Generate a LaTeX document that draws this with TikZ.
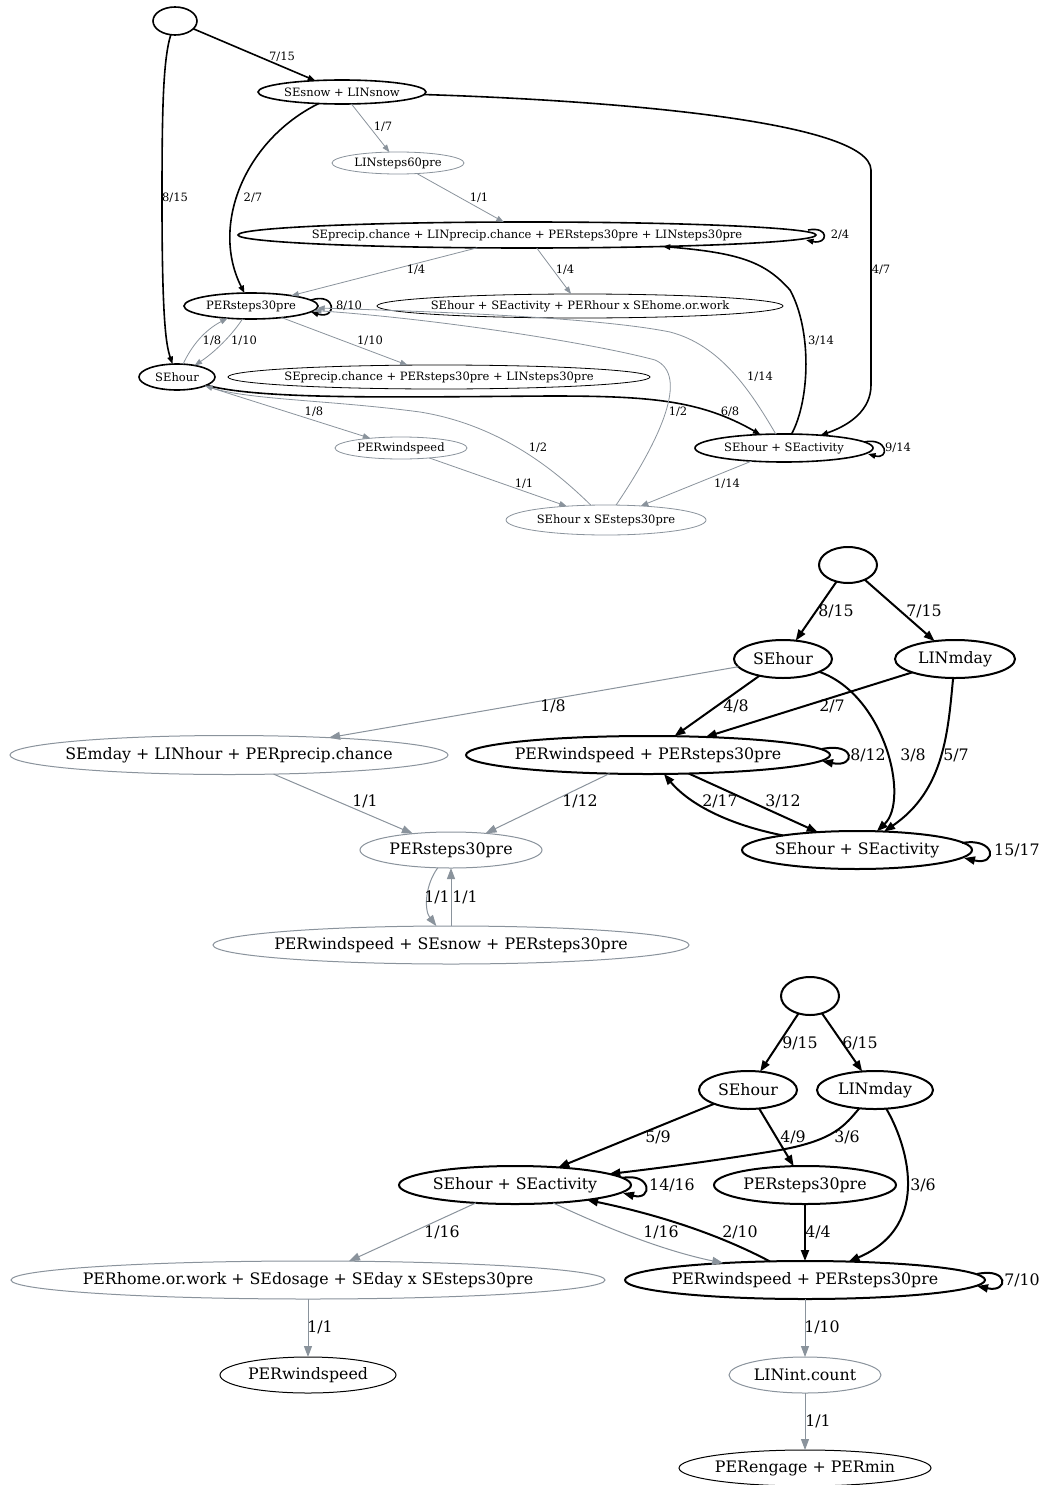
\documentclass[tikz,border=0pt]{standalone}
\usepackage{fontspec}
\setmainfont{DejaVu Serif}
\usetikzlibrary{shapes.geometric,arrows.meta,calc}
\definecolor{eg}{RGB}{138,147,156}
\newcommand\zt[1]{\hbox to 0pt{\hss#1\hss}}
\begin{document}
\begin{tikzpicture}[x=1pt,y=-1pt,
  nd/.style={ellipse, inner sep=0pt, outer sep=0pt},
  fa/.style={font=\fontsize{11.5}{13}\selectfont},
  fb/.style={font=\fontsize{15.8}{18}\selectfont},
  tk/.style={nd, fa, draw=black, line width=1.6pt},
  tn/.style={nd, fa, draw=black, line width=0.8pt},
  tg/.style={nd, fa, draw=eg, line width=0.8pt},
  bk/.style={nd, fb, draw=black, line width=2pt},
  bn/.style={nd, fb, draw=black, line width=1pt},
  bg/.style={nd, fb, draw=eg, line width=1pt},
  ea/.style={black, line width=1.6pt, -{Triangle[length=7.5pt,width=5.5pt]}},
  eag/.style={eg, line width=0.8pt, -{Triangle[length=7.5pt,width=5.5pt]}},
  eb/.style={black, line width=2pt, -{Triangle[length=11pt,width=8pt]}},
  ebg/.style={eg, line width=1pt, -{Triangle[length=11pt,width=8pt]}},
  la/.style={fa, inner sep=0pt},
  lb/.style={fb, inner sep=0pt}]
\fill[white] (0,0) rectangle (1042,1485);
\useasboundingbox (0,0) rectangle (1042,1485);

% ---------------- top graph ----------------
\node[tk, minimum width=44pt, minimum height=28pt] (r1) at (175,21) {};
\node[tk, minimum width=168pt, minimum height=24pt] (sn) at (342,92) {\zt{SEsnow + LINsnow}};
\node[tg, minimum width=132pt, minimum height=22pt] (l60) at (398,163) {\zt{LINsteps60pre}};
\node[tk, minimum width=578pt, minimum height=26pt] (big) at (527,235) {\zt{SEprecip.chance + LINprecip.chance + PERsteps30pre + LINsteps30pre}};
\node[tk, minimum width=134pt, minimum height=26pt] (ps) at (251,306) {\zt{PERsteps30pre}};
\node[tn, minimum width=406pt, minimum height=24pt] (sah) at (580,306) {\zt{SEhour + SEactivity + PERhour x SEhome.or.work}};
\node[tk, minimum width=76pt, minimum height=26pt] (seh) at (177,377) {\zt{SEhour}};
\node[tn, minimum width=422pt, minimum height=24pt] (spc) at (439,377) {\zt{SEprecip.chance + PERsteps30pre + LINsteps30pre}};
\node[tg, minimum width=132pt, minimum height=22pt] (pw) at (401,448) {\zt{PERwindspeed}};
\node[tk, minimum width=178pt, minimum height=28pt] (sa) at (784,448) {\zt{SEhour + SEactivity}};
\node[tg, minimum width=200pt, minimum height=30pt] (sx) at (606,520) {\zt{SEhour x SEsteps30pre}};

\draw[ea] (r1) -- (sn);
\draw[ea] (r1) .. controls (163,60) and (162,110) .. (162,200) .. controls (162,320) and (166,345) .. (seh);
\draw[eag] (sn) -- (l60);
\draw[ea] (sn) .. controls (245,140) and (210,225) .. (ps);
\draw[ea] (sn) .. controls (600,100) and (870,120) .. (871,170) -- (871,385) .. controls (871,410) and (850,425) .. (sa);
\draw[eag] (l60) -- (big);
\draw[ea] ($(big.east)+(-8,-5)$) .. controls +(22,-4) and +(22,5) .. ($(big.east)+(-10,5)$);
\draw[eag] (big) -- (ps);
\draw[eag] (big) -- (sah);
\draw[ea] ($(ps.east)+(-7,-6)$) .. controls +(26,-8) and +(26,8) .. ($(ps.east)+(-7,6)$);
\draw[eag] (ps) .. controls (232,335) and (215,352) .. (seh);
\draw[eag] (seh) .. controls (192,345) and (205,330) .. (ps);
\draw[eag] (ps) -- (spc);
\draw[ea] (seh) .. controls (260,400) and (400,397) .. (550,396) .. controls (650,396) and (700,400) .. (sa);
\draw[eag] (seh) -- (pw);
\draw[ea] (sa) .. controls (810,400) and (812,330) .. (790,290) .. controls (765,262) and (740,253) .. (big);
\draw[eag] (sa) .. controls (750,390) and (720,345) .. (670,332) .. controls (600,318) and (450,312) .. (ps);
\draw[eag] (sx) .. controls (660,440) and (690,375) .. (655,360) .. controls (600,345) and (450,320) .. (ps);
\draw[ea] ($(sa.east)+(-9,-6)$) .. controls +(24,-5) and +(22,6) .. ($(sa.east)+(-5,6)$);
\draw[eag] (sa) -- (sx);
\draw[eag] (pw) -- (sx);
\draw[eag] (sx) .. controls (555,470) and (500,425) .. (420,412) .. controls (330,400) and (250,400) .. (seh);

\node[la] (ta1) at (282,57) {7/15};
\node[la] (ta2) at (175,198) {8/15};
\node[la] (ta3) at (383,127) {1/7};
\node[la] (ta4) at (253,198) {2/7};
\node[la] (ta5) at (881,270) {4/7};
\node[la] (ta6) at (479,198) {1/1};
\node[la] (ta7) at (840,235) {2/4};
\node[la] (ta8) at (416,270) {1/4};
\node[la] (ta9) at (565,270) {1/4};
\node[la] (ta10) at (349,306) {8/10};
\node[la] (ta11) at (212,341) {1/8};
\node[la] (ta12) at (244,341) {1/10};
\node[la] (ta13) at (370,341) {1/10};
\node[la] (ta14) at (821,341) {3/14};
\node[la] (ta15) at (760,377) {1/14};
\node[la] (ta16) at (730,412) {6/8};
\node[la] (ta17) at (314,412) {1/8};
\node[la] (ta18) at (678,412) {1/2};
\node[la] (ta19) at (538,448) {1/2};
\node[la] (ta20) at (898,448) {9/14};
\node[la] (ta21) at (524,484) {1/1};
\node[la] (ta22) at (727,484) {1/14};

% ---------------- middle graph ----------------
\node[bk, minimum width=58pt, minimum height=36pt] (r2) at (848,565) {};
\node[bk, minimum width=98pt, minimum height=38pt] (sh2) at (783,659) {\zt{SEhour}};
\node[bk, minimum width=120pt, minimum height=38pt] (lm2) at (955,659) {\zt{LINmday}};
\node[bg, minimum width=438pt, minimum height=39pt] (sl2) at (229,755) {\zt{SEmday + LINhour + PERprecip.chance}};
\node[bk, minimum width=364pt, minimum height=38pt] (pp2) at (648,755) {\zt{PERwindspeed + PERsteps30pre}};
\node[bk, minimum width=230pt, minimum height=38pt] (sa2) at (857,850) {\zt{SEhour + SEactivity}};
\node[bg, minimum width=182pt, minimum height=36pt] (ps2) at (451,850) {\zt{PERsteps30pre}};
\node[bg, minimum width=476pt, minimum height=38pt] (pw2) at (451,945) {\zt{PERwindspeed + SEsnow + PERsteps30pre}};

\draw[eb] (r2) -- (sh2);
\draw[eb] (r2) -- (lm2);
\draw[ebg] (sh2) -- (sl2);
\draw[eb] (sh2) -- (pp2);
\draw[eb] (lm2) -- (pp2);
\draw[eb] (sh2) .. controls (885,695) and (910,800) .. (sa2);
\draw[eb] (lm2) .. controls (948,730) and (945,790) .. (sa2);
\draw[eb] ($(pp2.east)+(-8,-6)$) .. controls +(34,-7) and +(34,7) .. ($(pp2.east)+(-8,6)$);
\draw[eb] (pp2) -- (sa2);
\draw[eb] (sa2) .. controls (730,825) and (690,805) .. (pp2);
\draw[ebg] (pp2) -- (ps2);
\draw[ebg] (sl2) -- (ps2);
\draw[eb] ($(sa2.east)+(-10,-7)$) .. controls +(34,-6) and +(34,8) .. ($(sa2.east)+(-8,8)$);
\draw[ebg] (ps2) .. controls (425,885) and (424,910) .. (pw2);
\draw[ebg] (pw2) -- (ps2);

\node[lb] (ma1) at (836,611) {8/15};
\node[lb] (ma2) at (924,611) {7/15};
\node[lb] (ma3) at (553,706) {1/8};
\node[lb] (ma4) at (736,706) {4/8};
\node[lb] (ma5) at (832,706) {2/7};
\node[lb] (ma6) at (868,755) {8/12};
\node[lb] (ma7) at (913,755) {3/8};
\node[lb] (ma8) at (956,755) {5/7};
\node[lb] (ma9) at (365,801) {1/1};
\node[lb] (ma10) at (580,801) {1/12};
\node[lb] (ma11) at (720,801) {2/17};
\node[lb] (ma12) at (783,801) {3/12};
\node[lb] (ma13) at (1017,850) {15/17};
\node[lb] (ma14) at (437,897) {1/1};
\node[lb] (ma15) at (465,897) {1/1};

% ---------------- bottom graph ----------------
\node[bk, minimum width=58pt, minimum height=38pt] (r3) at (810,996) {};
\node[bk, minimum width=98pt, minimum height=38pt] (sh3) at (748,1090) {\zt{SEhour}};
\node[bk, minimum width=116pt, minimum height=38pt] (lm3) at (875,1090) {\zt{LINmday}};
\node[bk, minimum width=232pt, minimum height=38pt] (sab) at (515,1185) {\zt{SEhour + SEactivity}};
\node[bk, minimum width=182pt, minimum height=38pt] (ps3) at (805,1185) {\zt{PERsteps30pre}};
\node[bg, minimum width=594pt, minimum height=38pt] (ph3) at (308,1280) {\zt{PERhome.or.work + SEdosage + SEday x SEsteps30pre}};
\node[bk, minimum width=360pt, minimum height=38pt] (pp3) at (805,1280) {\zt{PERwindspeed + PERsteps30pre}};
\node[bn, minimum width=176pt, minimum height=36pt] (pw3) at (308,1375) {\zt{PERwindspeed}};
\node[bg, minimum width=152pt, minimum height=36pt] (li3) at (805,1375) {\zt{LINint.count}};
\node[bn, minimum width=252pt, minimum height=36pt] (pe3) at (805,1468) {\zt{PERengage + PERmin}};

\draw[eb] (r3) -- (sh3);
\draw[eb] (r3) -- (lm3);
\draw[eb] (sh3) -- (sab);
\draw[eb] (sh3) -- (ps3);
\draw[eb] (lm3) .. controls (845,1125) and (835,1140) .. (780,1150) .. controls (720,1160) and (660,1168) .. (sab);
\draw[eb] (lm3) .. controls (905,1140) and (935,1225) .. (pp3);
\draw[eb] ($(sab.east)+(-9,-7)$) .. controls +(30,-6) and +(30,8) .. ($(sab.east)+(-8,8)$);
\draw[eb] (ps3) -- (pp3);
\draw[ebg] (sab) -- (ph3);
\draw[ebg] (sab) .. controls (600,1225) and (660,1250) .. (pp3);
\draw[eb] (pp3) .. controls (720,1235) and (660,1215) .. (sab);
\draw[eb] ($(pp3.east)+(-8,-6)$) .. controls +(32,-7) and +(32,7) .. ($(pp3.east)+(-8,6)$);
\draw[ebg] (ph3) -- (pw3);
\draw[ebg] (pp3) -- (li3);
\draw[ebg] (li3) -- (pe3);

\node[lb] (ba1) at (800,1043) {9/15};
\node[lb] (ba2) at (860,1043) {6/15};
\node[lb] (ba3) at (658,1137) {5/9};
\node[lb] (ba4) at (793,1137) {4/9};
\node[lb] (ba5) at (847,1137) {3/6};
\node[lb] (ba6) at (672,1185) {14/16};
\node[lb] (ba7) at (923,1185) {3/6};
\node[lb] (ba8) at (442,1232) {1/16};
\node[lb] (ba9) at (661,1232) {1/16};
\node[lb] (ba10) at (740,1232) {2/10};
\node[lb] (ba11) at (818,1232) {4/4};
\node[lb] (ba12) at (1022,1280) {7/10};
\node[lb] (ba13) at (320,1327) {1/1};
\node[lb] (ba14) at (822,1327) {1/10};
\node[lb] (ba15) at (818,1421) {1/1};
\end{tikzpicture}
\end{document}
